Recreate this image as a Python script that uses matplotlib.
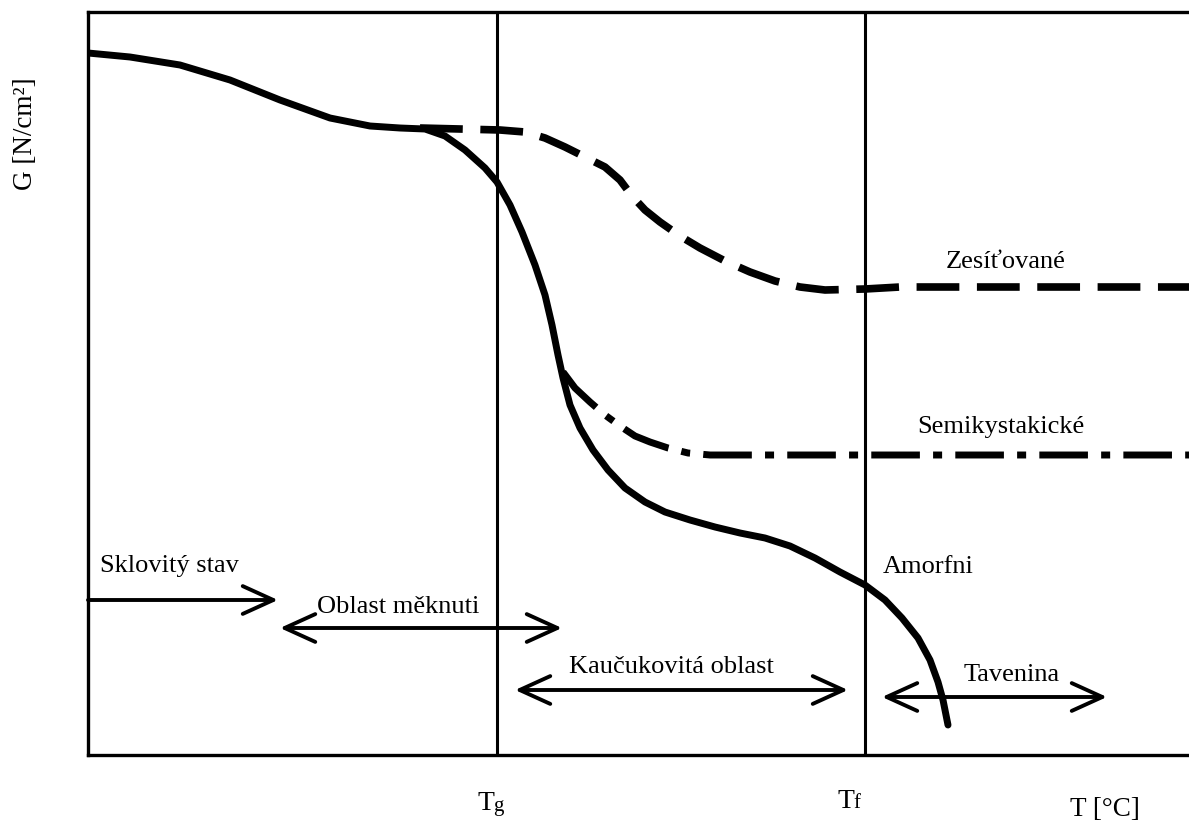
import matplotlib
matplotlib.use('Agg')
import matplotlib.pyplot as plt

plt.rcParams['font.family'] = ['Liberation Serif', 'DejaVu Serif']

# curves (x = temperature position, y = G position, both in picture units)
amorf_x = [88, 130, 180, 230, 280, 330, 370, 400, 425, 445, 465, 485, 497, 510, 522, 535, 545, 552, 558, 563,
           570, 580, 593, 608, 625, 645, 665, 690, 715, 740, 765, 790, 815, 840, 865, 885, 902, 918, 930, 938, 943, 946, 948]
amorf_y = [53, 57, 65, 80, 100, 118, 126, 128, 129, 136, 150, 168, 182, 205, 232, 265, 295, 325, 355, 378,
           405, 428, 450, 470, 488, 502, 512, 520, 527, 533, 538, 546, 558, 572, 585, 600, 618, 638, 660, 682, 700, 715, 725]

semi_x = [563, 575, 590, 605, 620, 635, 650, 668, 688, 710, 760, 865, 1189]
semi_y = [372, 388, 402, 415, 426, 436, 442, 448, 453, 455, 455, 455, 455]

zes_x = [420, 460, 500, 525, 545, 565, 585, 605, 620, 632, 645, 660, 680, 700, 725, 750, 775, 800, 825, 865, 900, 1189]
zes_y = [128, 129, 130, 132, 138, 147, 157, 167, 180, 196, 210, 222, 236, 248, 261, 272, 281, 287, 290, 289, 287, 287]

tg = 497
tf = 865

# regions: (start, end, y, text, text x, text y, two-sided)
regions = [
    (88, 278, 600, 'Sklovitý stav', 100, 566, False),
    (280, 562, 628, 'Oblast měknuti', 317, 607, True),
    (515, 848, 690, 'Kaučukovitá oblast', 569, 667, True),
    (882, 1107, 697, 'Tavenina', 964, 675, True),
]

curve_labels = [
    ('Zesíťované', 946, 262),
    ('Semikystakické', 917, 427),
    ('Amorfni', 883, 567),
]

fig = plt.figure(figsize=(11.89, 8.25), dpi=100)
ax = fig.add_axes([88 / 1189, 70 / 825, 1 - 88 / 1189, 743 / 825])
ax.set_xlim(88, 1189)
ax.set_ylim(755, 12)

for s in ['left', 'top', 'bottom']:
    ax.spines[s].set_linewidth(2.4)
ax.spines['right'].set_visible(False)

ax.axvline(tg, color='black', lw=2.2)
ax.axvline(tf, color='black', lw=2.2)

ax.plot(amorf_x, amorf_y, color='black', lw=5, solid_capstyle='round', solid_joinstyle='round')
ax.plot(semi_x, semi_y, color='black', lw=5, dashes=(7, 1.9, 1.3, 1.9), dash_capstyle='butt')
ax.plot(zes_x, zes_y, color='black', lw=5.5, dashes=(5.6, 2.3), dash_capstyle='butt')

for x0, x1, y, txt, tx, ty, both in regions:
    style = '<->' if both else '->'
    ax.annotate('', xy=(x1, y), xytext=(x0, y),
                arrowprops=dict(arrowstyle=style + ',head_length=1.1,head_width=0.5',
                                color='black', lw=2.8, mutation_scale=20,
                                shrinkA=0, shrinkB=0))
    ax.text(tx, ty, txt, fontsize=19, ha='left', va='center')

for txt, tx, ty in curve_labels:
    ax.text(tx, ty, txt, fontsize=19, ha='left', va='center')

ax.set_xticks([])
ax.set_yticks([])

# T_g and T_f under the vertical lines
fig.text(477 / 1189, 1 - 803 / 825, 'T', fontsize=20, ha='left', va='center')
fig.text(493 / 1189, 1 - 806 / 825, 'g', fontsize=15, ha='left', va='center')
fig.text(837 / 1189, 1 - 801 / 825, 'T', fontsize=20, ha='left', va='center')
fig.text(853 / 1189, 1 - 804 / 825, 'f', fontsize=15, ha='left', va='center')

fig.text(1105 / 1189, 1 - 809 / 825, 'T [°C]', fontsize=19.5, ha='center', va='center')
fig.text(25 / 1189, 1 - 134 / 825, 'G [N/cm²]', fontsize=19.5, rotation=90, ha='center', va='center')

fig.savefig('out.png', dpi=100)
